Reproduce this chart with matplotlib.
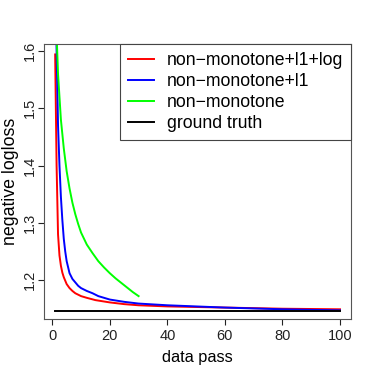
import matplotlib
matplotlib.use('Agg')
import matplotlib.pyplot as plt

plt.rcParams['font.family'] = ['Liberation Sans', 'DejaVu Sans']

# data
x_red = [1, 1.5, 2, 2.5, 3, 3.5, 4, 5, 6, 7, 8, 10, 12, 15, 20, 25, 30, 40, 50, 60, 70, 80, 90, 100]
y_red = [1.594, 1.40, 1.28, 1.243, 1.225, 1.213, 1.205, 1.193, 1.186, 1.181, 1.177, 1.172,
         1.169, 1.165, 1.161, 1.158, 1.156, 1.154, 1.153, 1.152, 1.151, 1.150, 1.1495, 1.149]

x_blue = [1, 1.5, 2, 2.5, 3, 3.5, 4, 4.5, 5, 6, 7, 8, 9, 10, 12, 14, 16, 18, 20, 25, 30,
          40, 50, 60, 70, 80, 90, 100]
y_blue = [1.75, 1.60, 1.47, 1.40, 1.345, 1.305, 1.272, 1.25, 1.233, 1.212, 1.202, 1.196,
          1.19, 1.186, 1.181, 1.177, 1.172, 1.169, 1.166, 1.162, 1.159, 1.156, 1.154,
          1.152, 1.1505, 1.149, 1.148, 1.1472]

x_green = [1, 2, 3, 4, 5, 6, 7, 8, 9, 10, 12, 14, 16, 18, 20, 22, 24, 26, 28, 30]
y_green = [1.70, 1.56, 1.48, 1.43, 1.39, 1.36, 1.335, 1.315, 1.298, 1.283, 1.262, 1.247,
           1.233, 1.222, 1.212, 1.203, 1.195, 1.187, 1.179, 1.172]

x_truth = [1, 100]
y_truth = [1.146, 1.146]

labels = ['non\u2212monotone+l1+log', 'non\u2212monotone+l1', 'non\u2212monotone', 'ground truth']

fig = plt.figure(figsize=(3.74, 3.74), dpi=100)
ax = fig.add_axes([0.117, 0.147, 0.8226, 0.735])

ax.plot(x_red, y_red, color='red', linewidth=1.4, label=labels[0])
ax.plot(x_blue, y_blue, color='blue', linewidth=1.4, label=labels[1])
ax.plot(x_green, y_green, color='#00FF00', linewidth=1.4, label=labels[2])
ax.plot(x_truth, y_truth, color='black', linewidth=1.4, label=labels[3])

ax.set_xlim(-2.96, 103.96)
ax.set_ylim(1.132, 1.612)
ax.set_xticks([0, 20, 40, 60, 80, 100])
ax.set_yticks([1.2, 1.3, 1.4, 1.5, 1.6])
ax.set_yticklabels(['1.2', '1.3', '1.4', '1.5', '1.6'], rotation=90, va='center')
ax.tick_params(direction='out', length=4.5, width=0.8, labelsize=10.5, colors='#222222')
ax.tick_params(axis='x', pad=3)
ax.tick_params(axis='y', pad=0.5)
for s in ax.spines.values():
    s.set_color('#555555')
    s.set_linewidth(0.8)

ax.set_xlabel('data pass', fontsize=11.8, labelpad=5)
ax.set_ylabel('negative logloss', fontsize=12.8)
ax.yaxis.set_label_coords(-0.082, 0.5)

leg = ax.legend(loc='upper right', borderaxespad=0, fancybox=False, framealpha=1,
                edgecolor='#444444', fontsize=12.7, handlelength=1.48, handletextpad=0.74,
                labelspacing=0.22, borderpad=0.45)
leg.get_frame().set_linewidth(0.8)

fig.savefig('out.png', dpi=100)
